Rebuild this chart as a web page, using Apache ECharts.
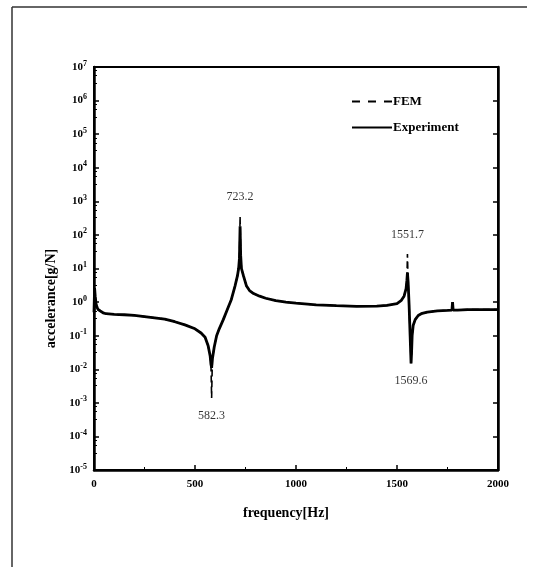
<!DOCTYPE html>
<html>
<head>
<meta charset="utf-8">
<script src="https://cdn.jsdelivr.net/npm/echarts@6/dist/echarts.min.js"></script>
<style>
html,body{margin:0;padding:0;background:#fff;}
#c{width:535px;height:567px;}
</style>
</head>
<body>
<div id="c"></div>
<script>
// ---- data ----
const freq = [0, 3, 6, 10, 15, 20, 30, 45, 60, 100, 150, 200, 250, 300, 350, 400, 450, 500, 530, 550, 565, 575, 579, 582.3, 586, 595, 607, 620, 640, 660, 680, 698, 710, 716, 720, 723.2, 726, 730, 740, 755, 770, 790, 820, 850, 900, 950, 1000, 1100, 1200, 1300, 1400, 1450, 1500, 1520, 1535, 1545, 1549, 1551.7, 1555, 1560, 1565, 1569.6, 1572, 1575, 1580, 1590, 1605, 1620, 1650, 1700, 1750, 1772, 1775, 1778, 1800, 1850, 1900, 1950, 2000];
const experiment = [0.5, 2.6, 1.5, 0.9, 0.7, 0.6, 0.55, 0.48, 0.45, 0.43, 0.42, 0.4, 0.37, 0.34, 0.31, 0.26, 0.21, 0.16, 0.12, 0.09, 0.05, 0.025, 0.014, 0.011, 0.02, 0.045, 0.1, 0.16, 0.3, 0.6, 1.2, 3, 6, 10, 20, 180, 25, 10, 6, 3, 2.2, 1.8, 1.5, 1.3, 1.1, 1.0, 0.93, 0.83, 0.78, 0.75, 0.76, 0.8, 0.9, 1.1, 1.5, 2.5, 4.5, 7.5, 4, 0.8, 0.1, 0.015, 0.03, 0.1, 0.2, 0.3, 0.4, 0.45, 0.5, 0.55, 0.57, 0.58, 1.0, 0.58, 0.58, 0.6, 0.6, 0.6, 0.6];
const fem = [0.5, 2.6, 1.5, 0.9, 0.7, 0.6, 0.55, 0.48, 0.45, 0.43, 0.42, 0.4, 0.37, 0.34, 0.31, 0.26, 0.21, 0.16, 0.12, 0.09, 0.05, 0.025, 0.014, 0.0014, 0.02, 0.045, 0.1, 0.16, 0.3, 0.6, 1.2, 3, 6, 10, 20, 360, 25, 10, 6, 3, 2.2, 1.8, 1.5, 1.3, 1.1, 1.0, 0.93, 0.83, 0.78, 0.75, 0.76, 0.8, 0.9, 1.1, 1.5, 2.5, 4.5, 27, 4, 0.8, 0.1, 0.015, 0.03, 0.1, 0.2, 0.3, 0.4, 0.45, 0.5, 0.55, 0.57, 0.58, 1.0, 0.58, 0.58, 0.6, 0.6, 0.6, 0.6];
const peakFreq = [582.3, 723.2, 1551.7, 1569.6];
const peakValue = [0.0014, 360, 27, 0.015];
const peakSide = ['bottom', 'top', 'top', 'bottom'];
const xTicks = [0, 500, 1000, 1500, 2000];
const yMinExp = -5, yMaxExp = 7;

const FONT = 'Liberation Serif';
const chart = echarts.init(document.getElementById('c'), null, {renderer: 'canvas'});

const expData = freq.map((f, i) => [f, experiment[i]]);
const femData = freq.map((f, i) => [f, fem[i]]);
const peakData = peakFreq.map((f, i) => ({
  value: [f, peakValue[i]],
  label: {position: peakSide[i], distance: peakSide[i] === 'top' ? 13 : 12}
}));

const yAxisCommon = {
  type: 'log',
  logBase: 10,
  min: Math.pow(10, yMinExp),
  max: Math.pow(10, yMaxExp),
  interval: 1,
  splitNumber: 12,
  splitLine: {show: false},
  axisLine: {show: true, lineStyle: {color: '#000', width: 2.5}},
  axisTick: {show: true, inside: true, length: 5, lineStyle: {color: '#000', width: 1.5}},
  minorTick: {show: true, splitNumber: 4, length: 3, lineStyle: {color: '#000', width: 1}},
};

chart.setOption({
  animation: false,
  backgroundColor: '#fff',
  grid: {left: 94, top: 67, width: 404, height: 403, show: true, borderColor: '#000', borderWidth: 2, backgroundColor: 'transparent'},
  legend: {
    left: 347, top: 90, orient: 'vertical', itemGap: 13,
    itemWidth: 40, itemHeight: 2,
    textStyle: {fontFamily: FONT, fontSize: 13, fontWeight: 'bold', color: '#000', padding: [0, 0, 0, -4]},
    data: [
      {name: 'FEM', icon: 'path://M0,0H8V2H0Z M16,0H24V2H16Z M32,0H40V2H32Z'},
      {name: 'Experiment', icon: 'rect'}
    ]
  },
  xAxis: {
    type: 'value', min: xTicks[0], max: xTicks[xTicks.length - 1], interval: 500,
    name: 'frequency[Hz]', nameLocation: 'middle', nameGap: 36,
    nameTextStyle: {fontFamily: FONT, fontSize: 14, fontWeight: 'bold', color: '#000', padding: [0, 20, 0, 0]},
    splitLine: {show: false},
    axisLine: {show: true, lineStyle: {color: '#000', width: 2.5}},
    axisTick: {show: true, inside: true, length: 5, lineStyle: {color: '#000', width: 1.5}},
    minorTick: {show: true, splitNumber: 2, length: 3, lineStyle: {color: '#000', width: 1}},
    axisLabel: {fontFamily: FONT, fontSize: 11, fontWeight: 'bold', color: '#000', margin: 9,
      formatter: function (v) { return String(v); }}
  },
  yAxis: [Object.assign({}, yAxisCommon, {
    position: 'left',
    name: 'accelerance[g/N]', nameLocation: 'middle', nameGap: 31,
    nameTextStyle: {fontFamily: FONT, fontSize: 14, fontWeight: 'bold', color: '#000', padding: [0, 60, 0, 0]},
    axisLabel: {
      margin: 7,
      formatter: function (v) {
        const e = Math.round(Math.log10(v));
        return '{b|10}{e|' + e + '}';
      },
      rich: {
        b: {fontFamily: FONT, fontSize: 11, fontWeight: 'bold', color: '#000'},
        e: {fontFamily: FONT, fontSize: 8, fontWeight: 'bold', color: '#000', verticalAlign: 'bottom', padding: [0, 0, 7, 0]}
      }
    }
  }), Object.assign({}, yAxisCommon, {
    position: 'right',
    axisLabel: {show: false},
    minorTick: {show: false}
  })],
  series: [
    {
      name: 'FEM', type: 'line', data: femData, symbol: 'none', z: 1,
      lineStyle: {color: '#000', width: 1.6, type: [7, 4]},
      itemStyle: {color: '#000'}
    },
    {
      name: 'Experiment', type: 'line', data: expData, symbol: 'none', z: 2,
      lineStyle: {color: '#000', width: 2.8},
      itemStyle: {color: '#000'}
    },
    {
      name: 'peaks', type: 'scatter', data: peakData, symbolSize: 0, z: 3,
      label: {
        show: true, fontFamily: FONT, fontSize: 12, color: '#000',
        formatter: function (p) { return String(p.value[0]); }
      },
      silent: true
    }
  ],
  graphic: [
    {type: 'line', shape: {x1: 12, y1: 7, x2: 527, y2: 7}, style: {stroke: '#333', lineWidth: 1.5}},
    {type: 'line', shape: {x1: 12, y1: 7, x2: 12, y2: 567}, style: {stroke: '#333', lineWidth: 1.5}}
  ]
});
</script>
</body>
</html>
